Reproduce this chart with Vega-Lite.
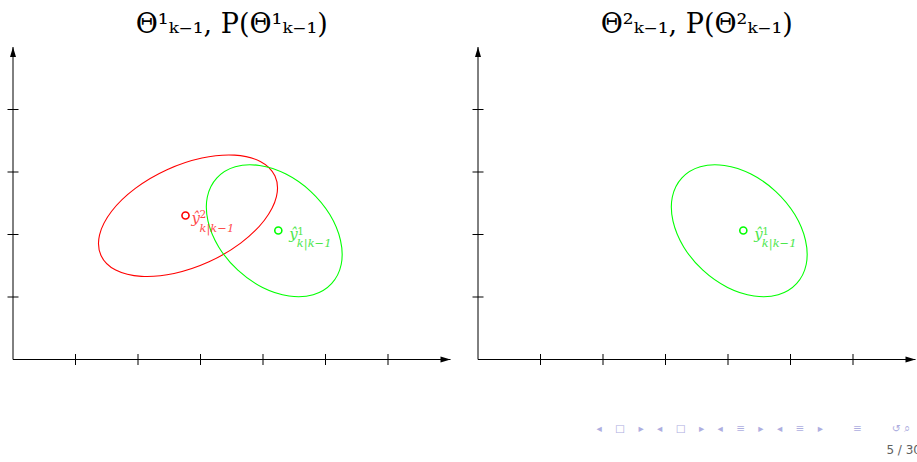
{
  "$schema": "https://vega.github.io/schema/vega-lite/v6.json",
  "background": "white",
  "padding": {"left": 7, "top": 10, "right": 0, "bottom": 0},
  "bounds": "flush",
  "spacing": 27,
  "title": {
    "text": "◂\u00a0\u00a0\u00a0\u00a0□\u00a0\u00a0\u00a0\u00a0▸\u00a0\u00a0\u00a0\u00a0◂\u00a0\u00a0\u00a0\u00a0□\u00a0\u00a0\u00a0\u00a0▸\u00a0\u00a0\u00a0\u00a0◂\u00a0\u00a0\u00a0\u00a0≡\u00a0\u00a0\u00a0\u00a0▸\u00a0\u00a0\u00a0\u00a0◂\u00a0\u00a0\u00a0\u00a0≡\u00a0\u00a0\u00a0\u00a0▸\u00a0\u00a0\u00a0\u00a0\u00a0\u00a0\u00a0\u00a0\u00a0≡\u00a0\u00a0\u00a0\u00a0\u00a0\u00a0\u00a0\u00a0\u00a0↺\u00a0⌕\u00a0\u2800",
    "subtitle": "5 / 30",
    "orient": "bottom",
    "anchor": "end",
    "font": "DejaVu Sans",
    "fontSize": 10.5,
    "color": "#aeaee0",
    "subtitleFont": "DejaVu Sans",
    "subtitleFontSize": 12,
    "subtitleColor": "#606060",
    "subtitlePadding": 10,
    "baseline": "top",
    "offset": 59,
    "dx": 5
  },
  "datasets": {
    "axes": [
      {"axis": "x", "x": 0, "y": 0, "x2": 7, "y2": 0},
      {"axis": "y", "x": 0, "y": 0, "x2": 0, "y2": 5}
    ],
    "ticks": [
      {"axis": "x", "x": 1, "y": 0}, {"axis": "x", "x": 2, "y": 0}, {"axis": "x", "x": 3, "y": 0},
      {"axis": "x", "x": 4, "y": 0}, {"axis": "x", "x": 5, "y": 0}, {"axis": "x", "x": 6, "y": 0},
      {"axis": "y", "x": 0, "y": 1}, {"axis": "y", "x": 0, "y": 2}, {"axis": "y", "x": 0, "y": 3},
      {"axis": "y", "x": 0, "y": 4}
    ],
    "outline": [
      {"panel": 1, "series": "2", "order": 0, "x": 4.192, "y": 2.935},
      {"panel": 1, "series": "2", "order": 1, "x": 3.957, "y": 3.169},
      {"panel": 1, "series": "2", "order": 2, "x": 3.546, "y": 3.270},
      {"panel": 1, "series": "2", "order": 3, "x": 3.023, "y": 3.224},
      {"panel": 1, "series": "2", "order": 4, "x": 2.464, "y": 3.037},
      {"panel": 1, "series": "2", "order": 5, "x": 1.957, "y": 2.738},
      {"panel": 1, "series": "2", "order": 6, "x": 1.578, "y": 2.372},
      {"panel": 1, "series": "2", "order": 7, "x": 1.385, "y": 1.995},
      {"panel": 1, "series": "2", "order": 8, "x": 1.408, "y": 1.665},
      {"panel": 1, "series": "2", "order": 9, "x": 1.643, "y": 1.431},
      {"panel": 1, "series": "2", "order": 10, "x": 2.054, "y": 1.330},
      {"panel": 1, "series": "2", "order": 11, "x": 2.577, "y": 1.376},
      {"panel": 1, "series": "2", "order": 12, "x": 3.136, "y": 1.563},
      {"panel": 1, "series": "2", "order": 13, "x": 3.643, "y": 1.862},
      {"panel": 1, "series": "2", "order": 14, "x": 4.022, "y": 2.228},
      {"panel": 1, "series": "2", "order": 15, "x": 4.215, "y": 2.605},

      {"panel": 1, "series": "1", "order": 0, "x": 5.097, "y": 1.214},
      {"panel": 1, "series": "1", "order": 1, "x": 5.251, "y": 1.520},
      {"panel": 1, "series": "1", "order": 2, "x": 5.240, "y": 1.907},
      {"panel": 1, "series": "1", "order": 3, "x": 5.069, "y": 2.319},
      {"panel": 1, "series": "1", "order": 4, "x": 4.762, "y": 2.691},
      {"panel": 1, "series": "1", "order": 5, "x": 4.367, "y": 2.967},
      {"panel": 1, "series": "1", "order": 6, "x": 3.943, "y": 3.104},
      {"panel": 1, "series": "1", "order": 7, "x": 3.556, "y": 3.084},
      {"panel": 1, "series": "1", "order": 8, "x": 3.263, "y": 2.906},
      {"panel": 1, "series": "1", "order": 9, "x": 3.109, "y": 2.600},
      {"panel": 1, "series": "1", "order": 10, "x": 3.120, "y": 2.213},
      {"panel": 1, "series": "1", "order": 11, "x": 3.291, "y": 1.801},
      {"panel": 1, "series": "1", "order": 12, "x": 3.598, "y": 1.429},
      {"panel": 1, "series": "1", "order": 13, "x": 3.993, "y": 1.153},
      {"panel": 1, "series": "1", "order": 14, "x": 4.417, "y": 1.016},
      {"panel": 1, "series": "1", "order": 15, "x": 4.804, "y": 1.036},

      {"panel": 2, "series": "1", "order": 0, "x": 5.097, "y": 1.214},
      {"panel": 2, "series": "1", "order": 1, "x": 5.251, "y": 1.520},
      {"panel": 2, "series": "1", "order": 2, "x": 5.240, "y": 1.907},
      {"panel": 2, "series": "1", "order": 3, "x": 5.069, "y": 2.319},
      {"panel": 2, "series": "1", "order": 4, "x": 4.762, "y": 2.691},
      {"panel": 2, "series": "1", "order": 5, "x": 4.367, "y": 2.967},
      {"panel": 2, "series": "1", "order": 6, "x": 3.943, "y": 3.104},
      {"panel": 2, "series": "1", "order": 7, "x": 3.556, "y": 3.084},
      {"panel": 2, "series": "1", "order": 8, "x": 3.263, "y": 2.906},
      {"panel": 2, "series": "1", "order": 9, "x": 3.109, "y": 2.600},
      {"panel": 2, "series": "1", "order": 10, "x": 3.120, "y": 2.213},
      {"panel": 2, "series": "1", "order": 11, "x": 3.291, "y": 1.801},
      {"panel": 2, "series": "1", "order": 12, "x": 3.598, "y": 1.429},
      {"panel": 2, "series": "1", "order": 13, "x": 3.993, "y": 1.153},
      {"panel": 2, "series": "1", "order": 14, "x": 4.417, "y": 1.016},
      {"panel": 2, "series": "1", "order": 15, "x": 4.804, "y": 1.036}
    ],
    "estimates": [
      {"panel": 1, "series": "2", "x": 2.76, "y": 2.304, "main": "ŷ", "sup": "2", "sub": "k|k−1"},
      {"panel": 1, "series": "1", "x": 4.245, "y": 2.064, "main": "ŷ", "sup": "1", "sub": "k|k−1"},
      {"panel": 2, "series": "1", "x": 4.245, "y": 2.064, "main": "ŷ", "sup": "1", "sub": "k|k−1"}
    ]
  },
  "config": {
    "view": {"stroke": null},
    "title": {
      "font": "DejaVu Serif",
      "fontSize": 27,
      "fontWeight": "normal",
      "color": "black",
      "baseline": "alphabetic",
      "offset": 8
    }
  },
  "hconcat": [
    {
      "width": 437.5,
      "height": 312.5,
      "title": {"text": "Θ¹ₖ₋₁, P(Θ¹ₖ₋₁)", "anchor": "middle"},
      "encoding": {
        "x": {"field": "x", "type": "quantitative", "scale": {"domain": [0, 7], "nice": false, "zero": false}, "axis": null},
        "y": {"field": "y", "type": "quantitative", "scale": {"domain": [0, 5], "nice": false, "zero": false}, "axis": null}
      },
      "layer": [
        {
          "data": {"name": "axes"},
          "mark": {"type": "rule", "color": "black", "strokeWidth": 1},
          "encoding": {"x2": {"field": "x2"}, "y2": {"field": "y2"}}
        },
        {
          "data": {"name": "axes"},
          "transform": [{"filter": "datum.axis === 'x'"}],
          "mark": {"type": "point", "shape": "M0,0L-2,-0.6L-2,0.6Z", "filled": true, "size": 100, "color": "black", "opacity": 1},
          "encoding": {
            "x": {"field": "x2", "type": "quantitative"},
            "y": {"field": "y2", "type": "quantitative"}
          }
        },
        {
          "data": {"name": "axes"},
          "transform": [{"filter": "datum.axis === 'y'"}],
          "mark": {"type": "point", "shape": "M0,0L0.6,2L-0.6,2Z", "filled": true, "size": 100, "color": "black", "opacity": 1},
          "encoding": {
            "x": {"field": "x2", "type": "quantitative"},
            "y": {"field": "y2", "type": "quantitative"}
          }
        },
        {
          "data": {"name": "ticks"},
          "transform": [{"filter": "datum.axis === 'x'"}],
          "mark": {"type": "tick", "orient": "vertical", "size": 11, "thickness": 1, "color": "black", "opacity": 1}
        },
        {
          "data": {"name": "ticks"},
          "transform": [{"filter": "datum.axis === 'y'"}],
          "mark": {"type": "tick", "orient": "horizontal", "size": 11, "thickness": 1, "color": "black", "opacity": 1}
        },
        {
          "data": {"name": "outline"},
          "transform": [{"filter": "datum.panel === 1"}],
          "mark": {"type": "line", "interpolate": "cardinal-closed", "strokeWidth": 1.1},
          "encoding": {
            "order": {"field": "order", "type": "quantitative"},
            "color": {"field": "series", "type": "nominal", "scale": {"domain": ["1", "2"], "range": ["#00ff00", "#ff0000"]}, "legend": null}
          }
        },
        {
          "data": {"name": "estimates"},
          "transform": [{"filter": "datum.panel === 1"}],
          "mark": {"type": "point", "filled": false, "size": 50, "strokeWidth": 1.6, "opacity": 1},
          "encoding": {
            "color": {"field": "series", "type": "nominal", "scale": {"domain": ["1", "2"], "range": ["#00ff00", "#ff0000"]}, "legend": null}
          }
        },
        {
          "data": {"name": "estimates"},
          "transform": [{"filter": "datum.panel === 1 && datum.series === '2'"}],
          "mark": {"type": "text", "font": "DejaVu Serif", "fontStyle": "italic", "fontSize": 15, "align": "left", "baseline": "alphabetic", "dx": 6, "dy": 7, "color": "#ff0000", "opacity": 0.72},
          "encoding": {"text": {"field": "main"}}
        },
        {
          "data": {"name": "estimates"},
          "transform": [{"filter": "datum.panel === 1 && datum.series === '2'"}],
          "mark": {"type": "text", "font": "DejaVu Serif", "fontSize": 10.5, "align": "left", "baseline": "alphabetic", "dx": 14, "dy": 2.5, "color": "#ff0000", "opacity": 0.72},
          "encoding": {"text": {"field": "sup"}}
        },
        {
          "data": {"name": "estimates"},
          "transform": [{"filter": "datum.panel === 1 && datum.series === '2'"}],
          "mark": {"type": "text", "font": "DejaVu Serif", "fontStyle": "italic", "fontSize": 11.5, "align": "left", "baseline": "alphabetic", "dx": 14, "dy": 16, "color": "#ff0000", "opacity": 0.72},
          "encoding": {"text": {"field": "sub"}}
        },
        {
          "data": {"name": "estimates"},
          "transform": [{"filter": "datum.panel === 1 && datum.series === '1'"}],
          "mark": {"type": "text", "font": "DejaVu Serif", "fontStyle": "italic", "fontSize": 15, "align": "left", "baseline": "alphabetic", "dx": 11, "dy": 8.5, "color": "#00dd00", "opacity": 0.72},
          "encoding": {"text": {"field": "main"}}
        },
        {
          "data": {"name": "estimates"},
          "transform": [{"filter": "datum.panel === 1 && datum.series === '1'"}],
          "mark": {"type": "text", "font": "DejaVu Serif", "fontSize": 10.5, "align": "left", "baseline": "alphabetic", "dx": 19, "dy": 4, "color": "#00dd00", "opacity": 0.72},
          "encoding": {"text": {"field": "sup"}}
        },
        {
          "data": {"name": "estimates"},
          "transform": [{"filter": "datum.panel === 1 && datum.series === '1'"}],
          "mark": {"type": "text", "font": "DejaVu Serif", "fontStyle": "italic", "fontSize": 11.5, "align": "left", "baseline": "alphabetic", "dx": 18.5, "dy": 16.5, "color": "#00dd00", "opacity": 0.72},
          "encoding": {"text": {"field": "sub"}}
        }
      ]
    },
    {
      "width": 437.5,
      "height": 312.5,
      "title": {"text": "Θ²ₖ₋₁, P(Θ²ₖ₋₁)", "anchor": "middle"},
      "encoding": {
        "x": {"field": "x", "type": "quantitative", "scale": {"domain": [0, 7], "nice": false, "zero": false}, "axis": null},
        "y": {"field": "y", "type": "quantitative", "scale": {"domain": [0, 5], "nice": false, "zero": false}, "axis": null}
      },
      "layer": [
        {
          "data": {"name": "axes"},
          "mark": {"type": "rule", "color": "black", "strokeWidth": 1},
          "encoding": {"x2": {"field": "x2"}, "y2": {"field": "y2"}}
        },
        {
          "data": {"name": "axes"},
          "transform": [{"filter": "datum.axis === 'x'"}],
          "mark": {"type": "point", "shape": "M0,0L-2,-0.6L-2,0.6Z", "filled": true, "size": 100, "color": "black", "opacity": 1},
          "encoding": {
            "x": {"field": "x2", "type": "quantitative"},
            "y": {"field": "y2", "type": "quantitative"}
          }
        },
        {
          "data": {"name": "axes"},
          "transform": [{"filter": "datum.axis === 'y'"}],
          "mark": {"type": "point", "shape": "M0,0L0.6,2L-0.6,2Z", "filled": true, "size": 100, "color": "black", "opacity": 1},
          "encoding": {
            "x": {"field": "x2", "type": "quantitative"},
            "y": {"field": "y2", "type": "quantitative"}
          }
        },
        {
          "data": {"name": "ticks"},
          "transform": [{"filter": "datum.axis === 'x'"}],
          "mark": {"type": "tick", "orient": "vertical", "size": 11, "thickness": 1, "color": "black", "opacity": 1}
        },
        {
          "data": {"name": "ticks"},
          "transform": [{"filter": "datum.axis === 'y'"}],
          "mark": {"type": "tick", "orient": "horizontal", "size": 11, "thickness": 1, "color": "black", "opacity": 1}
        },
        {
          "data": {"name": "outline"},
          "transform": [{"filter": "datum.panel === 2"}],
          "mark": {"type": "line", "interpolate": "cardinal-closed", "strokeWidth": 1.1},
          "encoding": {
            "order": {"field": "order", "type": "quantitative"},
            "color": {"field": "series", "type": "nominal", "scale": {"domain": ["1", "2"], "range": ["#00ff00", "#ff0000"]}, "legend": null}
          }
        },
        {
          "data": {"name": "estimates"},
          "transform": [{"filter": "datum.panel === 2"}],
          "mark": {"type": "point", "filled": false, "size": 50, "strokeWidth": 1.6, "opacity": 1},
          "encoding": {
            "color": {"field": "series", "type": "nominal", "scale": {"domain": ["1", "2"], "range": ["#00ff00", "#ff0000"]}, "legend": null}
          }
        },
        {
          "data": {"name": "estimates"},
          "transform": [{"filter": "datum.panel === 2"}],
          "mark": {"type": "text", "font": "DejaVu Serif", "fontStyle": "italic", "fontSize": 15, "align": "left", "baseline": "alphabetic", "dx": 11, "dy": 8.5, "color": "#00dd00", "opacity": 0.72},
          "encoding": {"text": {"field": "main"}}
        },
        {
          "data": {"name": "estimates"},
          "transform": [{"filter": "datum.panel === 2"}],
          "mark": {"type": "text", "font": "DejaVu Serif", "fontSize": 10.5, "align": "left", "baseline": "alphabetic", "dx": 19, "dy": 4, "color": "#00dd00", "opacity": 0.72},
          "encoding": {"text": {"field": "sup"}}
        },
        {
          "data": {"name": "estimates"},
          "transform": [{"filter": "datum.panel === 2"}],
          "mark": {"type": "text", "font": "DejaVu Serif", "fontStyle": "italic", "fontSize": 11.5, "align": "left", "baseline": "alphabetic", "dx": 18.5, "dy": 16.5, "color": "#00dd00", "opacity": 0.72},
          "encoding": {"text": {"field": "sub"}}
        }
      ]
    }
  ]
}
